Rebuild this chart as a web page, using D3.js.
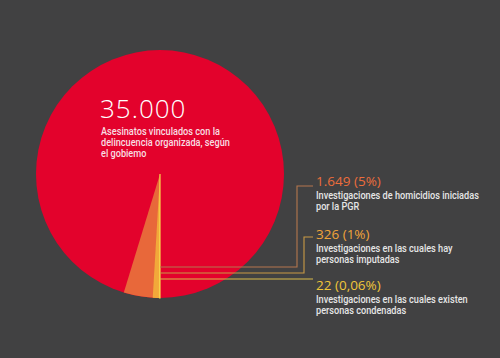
<!DOCTYPE html>
<html><head><meta charset="utf-8">
<script src="https://cdn.jsdelivr.net/npm/d3@7"></script>
<style>
html,body{margin:0;padding:0;background:#414142;}
svg{display:block;}
</style></head>
<body>
<svg id="chart" width="500" height="358"></svg>
<script>
const total = 35000;
const totalLabel = "35.000";
const totalDesc = ["Asesinatos vinculados con la", "delincuencia organizada, según", "el gobiemo"];
const categories = ["homicidios", "imputadas", "condenadas"];
const values = [1649, 326, 22];
const valueLabels = ["1.649 (5%)", "326 (1%)", "22 (0,06%)"];
const descriptions = [
  ["Investigaciones de homicidios iniciadas", "por la PGR"],
  ["Investigaciones en las cuales hay", "personas imputadas"],
  ["Investigaciones en las cuales existen", "personas condenadas"]
];
const colors = ["#e8683a", "#f2a83a", "#f6d24a"];
const lineColors = ["#b5774e", "#c99a45", "#d9bb4a"];
const labelColors = ["#ec6d3c", "#f0a43a", "#f0c63a"];

const svg = d3.select("#chart");
const cx = 160, cy = 174, R = 124;
const angle = d3.scaleLinear().domain([0, total]).range([Math.PI, 3 * Math.PI]);
const arc = d3.arc().innerRadius(0).outerRadius(R);
const g = svg.append("g").attr("transform", `translate(${cx},${cy})`);

g.append("path")
  .attr("d", arc({startAngle: angle(0), endAngle: angle(total)}))
  .attr("fill", "#e3022c");

values.forEach((v, i) => {
  g.append("path")
    .attr("d", arc({startAngle: angle(0), endAngle: angle(v)}))
    .attr("fill", colors[i])
    .attr("stroke", i === 2 ? colors[i] : "none")
    .attr("stroke-width", i === 2 ? 1.2 : 0);
});

const descFont = "Roboto, 'Open Sans', sans-serif";
// condensed text helper: scale horizontally
let condense = 1;
function condensedText(x, y, t, fill) {
  return svg.append("text")
    .attr("transform", `translate(${x},${y}) scale(${condense},1)`)
    .attr("fill", fill).attr("font-family", descFont)
    .attr("font-size", 10.5).attr("font-weight", 500).text(t);
}
// calibrate condensation factor from the longest description line
{
  const probe = svg.append("text").attr("font-family", descFont)
    .attr("font-size", 10.5).attr("font-weight", 500).text(descriptions[0][0]);
  const w = probe.node().getComputedTextLength();
  condense = 163 / w;
  probe.remove();
}

svg.append("text").attr("x", 100).attr("y", 118)
  .attr("fill", "#fff").attr("font-family", "Open Sans, Lato, sans-serif")
  .attr("font-weight", 300).attr("font-size", 26).attr("letter-spacing", 1).text(totalLabel);
totalDesc.forEach((t, i) => condensedText(101, 135 + i * 11, t, "#f8dfe3"));

const lineY = [267, 273, 279];
const elbowX = [297, 304, null];
const topY = [186, 237, null];
const endX = 313;
values.forEach((v, i) => {
  const pts = elbowX[i] !== null
    ? [[cx, lineY[i]], [elbowX[i], lineY[i]], [elbowX[i], topY[i]], [endX, topY[i]]]
    : [[cx, lineY[i]], [endX, lineY[i]]];
  svg.append("path").attr("d", d3.line()(pts))
    .attr("fill", "none").attr("stroke", lineColors[i]).attr("stroke-width", 1.1);
});

const labelY = [186, 239, 290];
values.forEach((v, i) => {
  svg.append("text").attr("x", 316).attr("y", labelY[i])
    .attr("fill", labelColors[i]).attr("font-family", "Open Sans, Lato, sans-serif")
    .attr("font-size", 13.5).attr("font-weight", 400).text(valueLabels[i]);
  descriptions[i].forEach((t, j) => condensedText(316, labelY[i] + 13 + j * 11, t, "#e6e6e6"));
});
</script>
</body></html>
